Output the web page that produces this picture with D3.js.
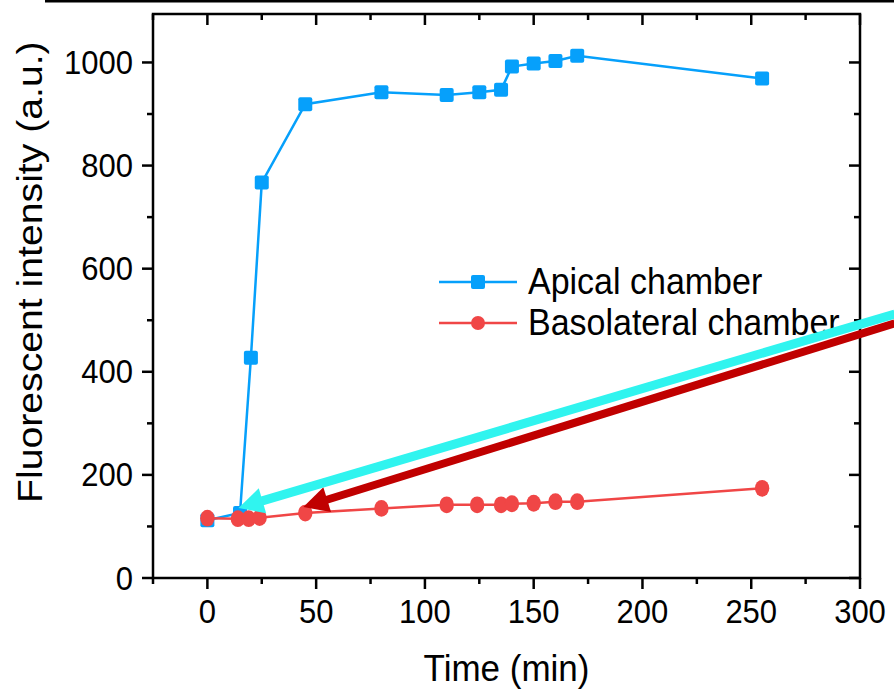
<!DOCTYPE html>
<html>
<head>
<meta charset="utf-8">
<script src="https://cdn.jsdelivr.net/npm/d3@7"></script>
<style>
	html, body { margin: 0; padding: 0; background: #fff; }
	svg { display: block; font-family: "Liberation Sans", Arial, sans-serif; }
</style>
</head>
<body>
<div id="chart"></div>
<script>
	// time points (min) and intensities (a.u.)
	var apicalTime = [0, 15, 20, 25, 45, 80, 110, 125, 135, 140, 150, 160, 170, 255];
	var apicalValue = [112, 126, 427, 767, 919, 942, 937, 942, 947, 992, 998, 1003, 1013, 969];

	var basoTime = [0, 14, 19, 24, 45, 80, 110, 124, 135, 140, 150, 160, 170, 255];
	var basoValue = [116, 115, 115, 117, 126, 135, 142, 142, 142, 144, 145, 148, 148, 174];

	var xTicks = [0, 50, 100, 150, 200, 250, 300];
	var yTicks = [0, 200, 400, 600, 800, 1000];

	var legendLabels = ["Apical chamber", "Basolateral chamber"];

	// annotation arrows, [tailX, tailY, tipX, tipY] in data units
	var arrowCyan = [316, 512, 14.3, 136];
	var arrowRed = [316, 494, 44.1, 137.6];

(function() {
	"use strict";

	var width = 894, height = 690;
	var m = { left: 153, right: 860, top: 14, bottom: 578 };

	var blue = "#06a0fb", red = "#f04646";

	var svg = d3.select("#chart").append("svg")
		.attr("width", width)
		.attr("height", height);

	var x = d3.scaleLinear().domain([-25, 300]).range([m.left, m.right]);
	var y = d3.scaleLinear().domain([0, 1094]).range([m.bottom, m.top]);

	// leftover edge of the panel above
	svg.append("line")
		.attr("x1", 45).attr("x2", width)
		.attr("y1", 1.2).attr("y2", 1.2)
		.attr("stroke", "#000").attr("stroke-width", 2.5);

	var minorX = d3.range(-25, 301, 25).filter(function(d) { return xTicks.indexOf(d) < 0; });
	var minorY = d3.range(0, 1094, 100).filter(function(d) { return yTicks.indexOf(d) < 0; });

	// bottom/left ticks point out, top/right ticks point in
	function axisTicks(side, scale, values, size) {
		svg.append("g").selectAll("line").data(values).enter().append("line")
			.attr("stroke", "#000").attr("stroke-width", 2.5)
			.each(function(d) {
				var s = d3.select(this);
				var p = scale(d);
				if (side === "bottom") s.attr("x1", p).attr("x2", p).attr("y1", m.bottom).attr("y2", m.bottom + size);
				if (side === "top") s.attr("x1", p).attr("x2", p).attr("y1", m.top).attr("y2", m.top + size);
				if (side === "left") s.attr("y1", p).attr("y2", p).attr("x1", m.left).attr("x2", m.left - size);
				if (side === "right") s.attr("y1", p).attr("y2", p).attr("x1", m.right).attr("x2", m.right - size);
			});
	}

	axisTicks("bottom", x, minorX, 6);
	axisTicks("bottom", x, xTicks, 11);
	axisTicks("top", x, minorX, 6);
	axisTicks("top", x, xTicks, 11);
	axisTicks("left", y, minorY, 6);
	axisTicks("left", y, yTicks, 11);
	axisTicks("right", y, minorY, 6);
	axisTicks("right", y, yTicks, 11);

	svg.append("rect")
		.attr("x", m.left).attr("y", m.top)
		.attr("width", m.right - m.left).attr("height", m.bottom - m.top)
		.attr("fill", "none").attr("stroke", "#000").attr("stroke-width", 2.5);

	svg.append("g").selectAll("text").data(xTicks).enter().append("text")
		.attr("transform", function(d) { return "translate(" + x(d) + ",623) scale(1,1.06)"; })
		.attr("text-anchor", "middle")
		.attr("font-size", 31)
		.text(function(d) { return d; });

	svg.append("g").selectAll("text").data(yTicks).enter().append("text")
		.attr("transform", function(d) { return "translate(133," + (y(d) + 11.5) + ") scale(1,1.06)"; })
		.attr("text-anchor", "end")
		.attr("font-size", 31)
		.text(function(d) { return d; });

	svg.append("text")
		.attr("transform", "translate(" + ((m.left + m.right) / 2) + ",681) scale(1,1.06)")
		.attr("text-anchor", "middle")
		.attr("font-size", 35)
		.text("Time (min)");

	// the source figure is a little stretched vertically, so the rotated title runs long
	svg.append("text")
		.attr("transform", "translate(42,503) rotate(-90) scale(1.12,1)")
		.attr("font-size", 35)
		.text("Fluorescent intensity (a.u.)");

	// series
	var line = d3.line()
		.x(function(d) { return x(d[0]); })
		.y(function(d) { return y(d[1]); });

	var apical = d3.zip(apicalTime, apicalValue);
	var baso = d3.zip(basoTime, basoValue);

	svg.append("path").datum(apical)
		.attr("d", line)
		.attr("fill", "none").attr("stroke", blue).attr("stroke-width", 2.5);

	svg.append("g").selectAll("rect").data(apical).enter().append("rect")
		.attr("x", function(d) { return x(d[0]) - 7; })
		.attr("y", function(d) { return y(d[1]) - 7; })
		.attr("width", 14).attr("height", 14)
		.attr("rx", 2)
		.attr("fill", blue);

	svg.append("path").datum(baso)
		.attr("d", line)
		.attr("fill", "none").attr("stroke", red).attr("stroke-width", 2.5);

	svg.append("g").selectAll("ellipse").data(baso).enter().append("ellipse")
		.attr("cx", function(d) { return x(d[0]); })
		.attr("cy", function(d) { return y(d[1]); })
		.attr("rx", 7.2)
		.attr("ry", 8.4)
		.attr("fill", red);

	// legend
	var legend = svg.append("g");
	[blue, red].forEach(function(c, i) {
		var ly = 282 + i * 41;
		legend.append("line")
			.attr("x1", 439).attr("x2", 517)
			.attr("y1", ly).attr("y2", ly)
			.attr("stroke", c).attr("stroke-width", 2.5);
		if (i === 0) {
			legend.append("rect")
				.attr("x", 471).attr("y", ly - 7)
				.attr("width", 14).attr("height", 14).attr("rx", 2)
				.attr("fill", c);
		} else {
			legend.append("circle")
				.attr("cx", 478).attr("cy", ly).attr("r", 7)
				.attr("fill", c);
		}
		legend.append("text")
			.attr("transform", "translate(528," + (ly + 12) + ") scale(1,1.06)")
			.attr("font-size", 34)
			.text(legendLabels[i]);
	});

	// arrows
	function drawArrow(a, color, w) {
		var x1 = x(a[0]), y1 = y(a[1]), x2 = x(a[2]), y2 = y(a[3]);
		var ang = Math.atan2(y2 - y1, x2 - x1);
		var headLen = 25, headHalf = 13;
		var bx = x2 - headLen * Math.cos(ang), by = y2 - headLen * Math.sin(ang);
		svg.append("line")
			.attr("x1", x1).attr("y1", y1)
			.attr("x2", bx + 2 * Math.cos(ang)).attr("y2", by + 2 * Math.sin(ang))
			.attr("stroke", color).attr("stroke-width", w);
		var px = -Math.sin(ang), py = Math.cos(ang);
		svg.append("polygon")
			.attr("points", [
				[x2, y2],
				[bx + px * headHalf, by + py * headHalf],
				[bx - px * headHalf, by - py * headHalf]
			].map(function(p) { return p.join(","); }).join(" "))
			.attr("fill", color);
	}

	drawArrow(arrowRed, "#c00000", 8);
	drawArrow(arrowCyan, "#30f4ef", 9);
})();
</script>
</body>
</html>
